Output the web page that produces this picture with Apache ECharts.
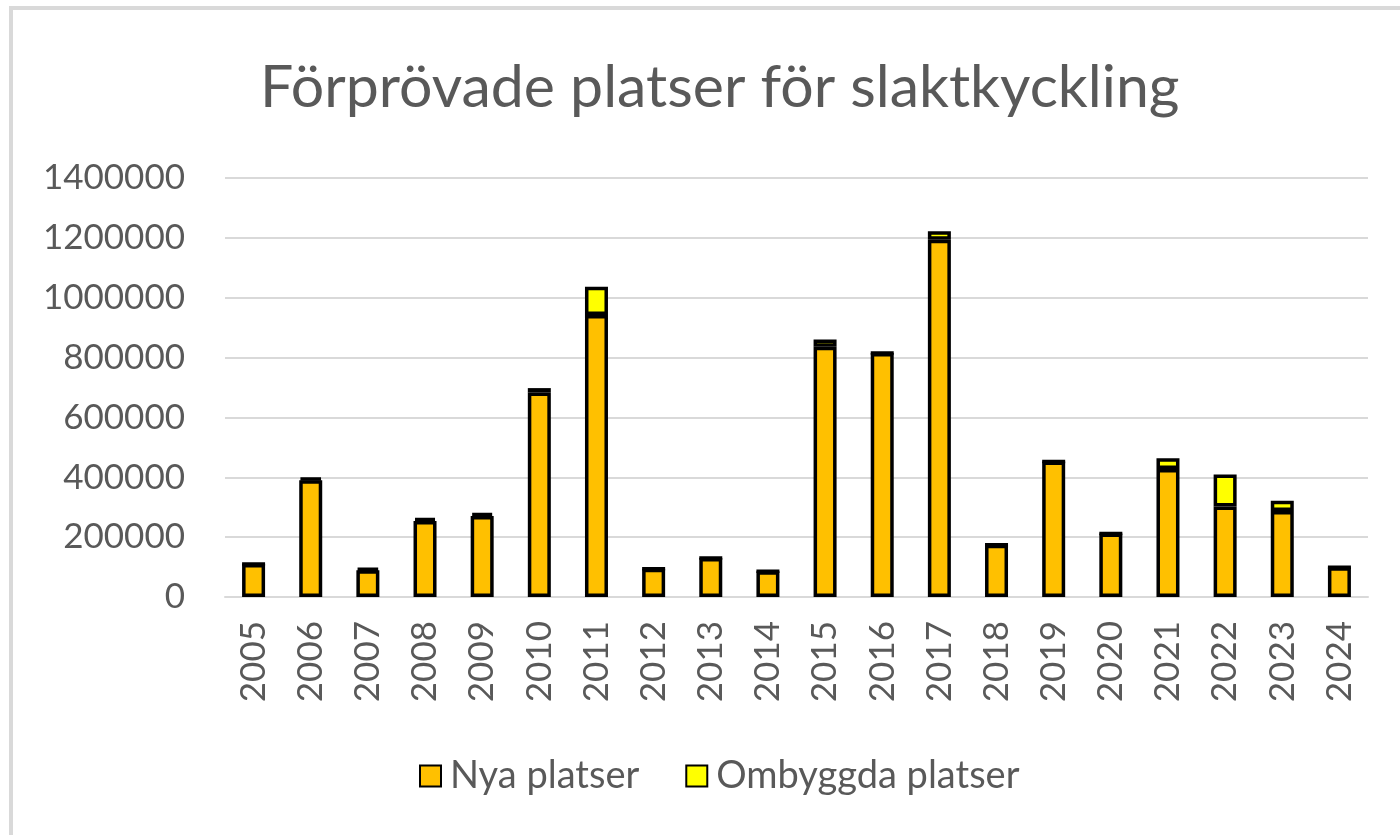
<!DOCTYPE html>
<html>
<head>
<meta charset="utf-8">
<script src="https://cdn.jsdelivr.net/npm/echarts@6/dist/echarts.min.js"></script>
<style>
    html, body { margin: 0; padding: 0; background: #fff; }
    #chart { width: 1400px; height: 835px; }
</style>
</head>
<body>
<div id="chart"></div>
<script>
// data
var years = ['2005','2006','2007','2008','2009','2010','2011','2012','2013','2014',
             '2015','2016','2017','2018','2019','2020','2021','2022','2023','2024'];
var nya = [110000, 390000, 89000, 254000, 271000, 683000, 942000, 94000, 130000, 86000,
           836000, 815000, 1194000, 175000, 453000, 212000, 428000, 302000, 287000, 99000];
var ombyggda = [0, 8000, 8000, 10000, 10000, 15000, 95000, 0, 0, 0,
                24000, 0, 28000, 0, 0, 0, 36000, 107000, 35000, 0];

var font = 'Lato';
var grey = '#595959';

var myChart = echarts.init(document.getElementById('chart'));
var option = {
    backgroundColor: '#fff',
    title: {
        text: 'Förprövade platser för slaktkyckling',
        left: 255,
        top: 53,
        textStyle: { fontFamily: font, fontSize: 59, fontWeight: 'normal', color: grey }
    },
    graphic: [{
        type: 'rect',
        shape: { x: 11, y: 8, width: 1500, height: 1000 },
        style: { fill: 'none', stroke: '#d9d9d9', lineWidth: 4 },
        silent: true
    }],
    legend: {
        left: 414,
        top: 752,
        icon: 'rect',
        itemWidth: 21,
        itemHeight: 21,
        itemGap: 46,
        textStyle: { fontFamily: font, fontSize: 38, color: grey, padding: [0, 0, 0, 4] },
        data: ['Nya platser', 'Ombyggda platser']
    },
    grid: { left: 225, right: 32, top: 178, bottom: 238 },
    xAxis: {
        type: 'category',
        data: years,
        axisLine: { lineStyle: { color: '#d9d9d9', width: 2 } },
        axisTick: { show: false },
        axisLabel: { rotate: 90, margin: 24, fontFamily: font, fontSize: 35, color: grey }
    },
    yAxis: {
        type: 'value',
        min: 0,
        max: 1400000,
        interval: 200000,
        axisLine: { show: false },
        axisTick: { show: false },
        splitLine: { lineStyle: { color: '#d9d9d9', width: 2 } },
        axisLabel: {
            margin: 40, fontFamily: font, fontSize: 35, color: grey,
            formatter: function (v) { return String(v); }
        }
    },
    series: [
        {
            name: 'Nya platser',
            type: 'bar',
            stack: 'tot',
            barWidth: 23,
            data: nya,
            itemStyle: { color: '#ffc000', borderColor: '#000', borderWidth: 3.5 }
        },
        {
            name: 'Ombyggda platser',
            type: 'bar',
            stack: 'tot',
            barWidth: 23,
            data: ombyggda,
            itemStyle: { color: '#ffff00', borderColor: '#000', borderWidth: 3.5 }
        }
    ]
};
myChart.setOption(option);
</script>
</body>
</html>
